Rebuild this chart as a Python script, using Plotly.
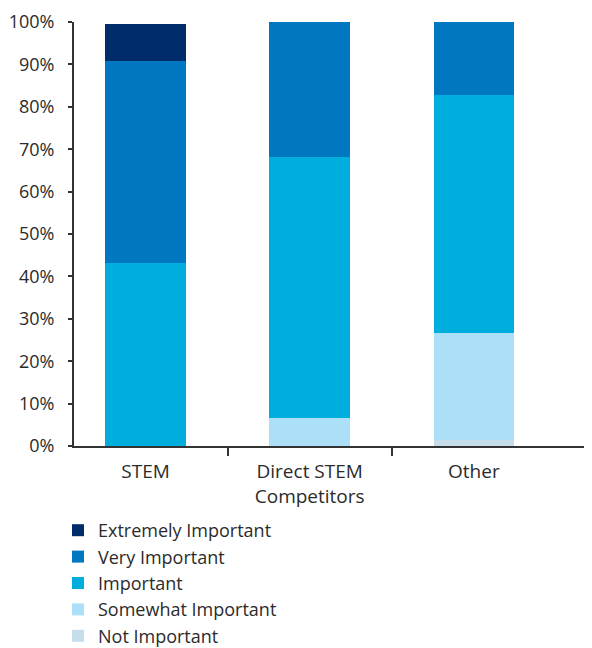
import plotly.graph_objects as go

categories = ["STEM", "Direct STEM<br>Competitors", "Other"]
series_names = ["Not Important", "Somewhat Important", "Important", "Very Important", "Extremely Important"]
not_important = [0, 0, 1.5]
somewhat_important = [0, 6.5, 25.2]
important = [43.2, 61.7, 56.1]
very_important = [47.6, 31.8, 17.2]
extremely_important = [8.8, 0, 0]
colors = ["#C6DDEB", "#ABE0F8", "#00AEDD", "#0077C0", "#002D6A"]
y_ticks = [0, 10, 20, 30, 40, 50, 60, 70, 80, 90, 100]
y_ticktext = [f"{v}%" for v in y_ticks]

FONT = "Open Sans"
TXT = "#2b2b2b"
W, H = 584, 640  # page body adds an 8px offset

fig = go.Figure()
for name, vals, col in zip(series_names,
                           [not_important, somewhat_important, important, very_important, extremely_important],
                           colors):
    fig.add_trace(go.Bar(x=list(range(len(categories))), y=vals, name=name,
                         marker=dict(color=col, line=dict(width=0)), width=0.49))

# invisible helper trace so the boundary-tick axis is drawn
fig.add_trace(go.Scatter(x=[0.5], y=[0], xaxis="x2", mode="markers",
                         marker=dict(opacity=0), showlegend=False, hoverinfo="skip"))

fig.update_layout(
    width=W, height=H,
    barmode="stack",
    paper_bgcolor="white", plot_bgcolor="white",
    margin=dict(l=66, r=0, t=14, b=201.5, autoexpand=False),
    font=dict(family=FONT, color=TXT, size=16),
    xaxis=dict(range=[-0.436, 2.72], tickvals=[0, 1, 2], ticktext=categories,
               showline=True, linecolor="#333333", linewidth=2,
               ticks="", showgrid=False, zeroline=False,
               ticklabelstandoff=7,
               tickfont=dict(size=19, family=FONT, color=TXT)),
    xaxis2=dict(overlaying="x", range=[-0.436, 2.72], tickvals=[0.5, 1.5],
                ticks="outside", ticklen=9, tickwidth=1.5, tickcolor="#333333",
                showticklabels=False, showgrid=False, zeroline=False, showline=False,
                anchor="y", side="bottom"),
    yaxis=dict(range=[0, 100], tickvals=y_ticks, ticktext=y_ticktext,
               showline=True, linecolor="#333333", linewidth=2,
               ticks="outside", ticklen=4, tickwidth=1.5, tickcolor="#333333",
               ticklabelstandoff=10,
               showgrid=False, zeroline=False,
               tickfont=dict(size=18, family=FONT, color=TXT)),
    showlegend=True,
    legend=dict(orientation="v", traceorder="reversed",
                xref="container", yref="container",
                x=50 / W, xanchor="left", y=1 - 504 / H, yanchor="top",
                font=dict(size=18, family=FONT, color=TXT),
                bgcolor="rgba(0,0,0,0)", itemclick=False),
)

fig.write_html("out.html")
